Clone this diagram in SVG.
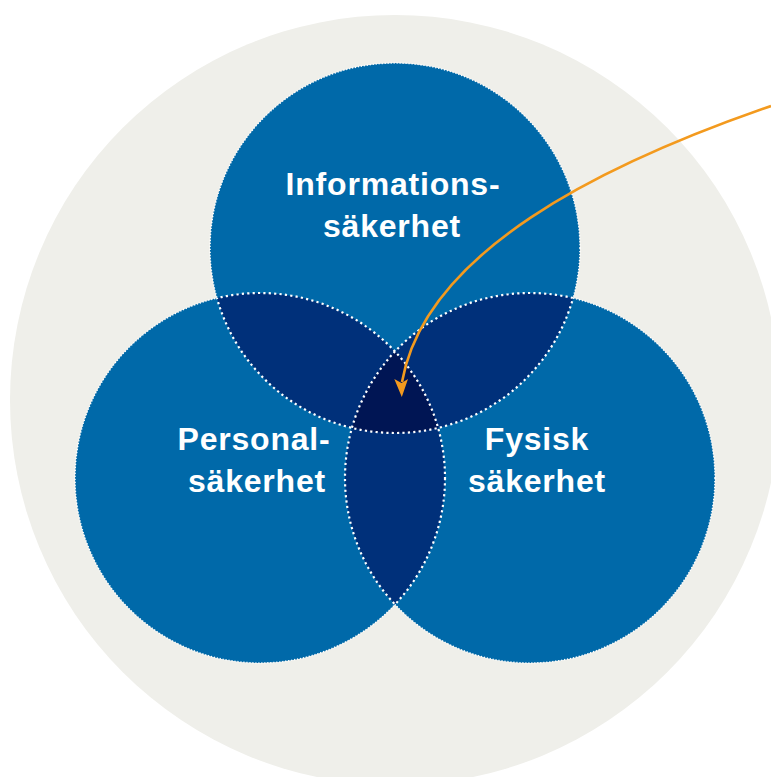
<svg xmlns="http://www.w3.org/2000/svg" width="771" height="777" viewBox="0 0 771 777">
<defs>
<style>
.base{fill:#0069A9}
.dk{fill:#00307A}
.dkk{fill:#001554}
.dot{fill:none;stroke:#fff;stroke-width:2.2;stroke-dasharray:2.2 3.2}
.fine{fill:none;stroke:#fff;stroke-width:1.5;stroke-dasharray:1.2 1.8}
.lbl{font-family:"Liberation Sans",Arial,sans-serif;font-weight:bold;font-size:32px;fill:#fff;text-anchor:middle;letter-spacing:0.8px}
.arrow{fill:none;stroke:#F39A1E;stroke-width:2.6}
</style>
<clipPath id="cT"><circle cx="395" cy="248" r="185"/></clipPath>
<clipPath id="cL"><circle cx="260" cy="478" r="185"/></clipPath>
<clipPath id="cR"><circle cx="530" cy="478" r="185"/></clipPath>
<clipPath id="uLR"><circle cx="260" cy="478" r="185"/><circle cx="530" cy="478" r="185"/></clipPath>
<clipPath id="uTR"><circle cx="395" cy="248" r="185"/><circle cx="530" cy="478" r="185"/></clipPath>
<clipPath id="uTL"><circle cx="395" cy="248" r="185"/><circle cx="260" cy="478" r="185"/></clipPath>
<mask id="mT" maskUnits="userSpaceOnUse" x="0" y="0" width="771" height="777"><rect width="771" height="777" fill="#fff"/><circle cx="260" cy="478" r="185"/><circle cx="530" cy="478" r="185"/></mask>
<mask id="mL" maskUnits="userSpaceOnUse" x="0" y="0" width="771" height="777"><rect width="771" height="777" fill="#fff"/><circle cx="395" cy="248" r="185"/><circle cx="530" cy="478" r="185"/></mask>
<mask id="mR" maskUnits="userSpaceOnUse" x="0" y="0" width="771" height="777"><rect width="771" height="777" fill="#fff"/><circle cx="395" cy="248" r="185"/><circle cx="260" cy="478" r="185"/></mask>
</defs>
<rect width="771" height="777" fill="#fff"/>
<circle id="background" cx="395" cy="400" r="385" fill="#EFEFEA"/>

<g id="node-info">
<circle class="base" cx="395" cy="248" r="185"/>
</g>
<g id="node-personal">
<circle class="base" cx="260" cy="478" r="185"/>
</g>
<g id="node-fysisk">
<circle class="base" cx="530" cy="478" r="185"/>
</g>

<g id="overlaps">
<circle class="dk" cx="260" cy="478" r="185" clip-path="url(#cT)"/>
<circle class="dk" cx="530" cy="478" r="185" clip-path="url(#cT)"/>
<circle class="dk" cx="530" cy="478" r="185" clip-path="url(#cL)"/>
<g clip-path="url(#cL)"><circle class="dkk" cx="530" cy="478" r="185" clip-path="url(#cT)"/></g>
</g>

<g id="outlines">
<circle class="fine" cx="395" cy="248" r="185" mask="url(#mT)"/>
<circle class="fine" cx="260" cy="478" r="185" mask="url(#mL)"/>
<circle class="fine" cx="530" cy="478" r="185" mask="url(#mR)"/>
<circle class="dot" cx="395" cy="248" r="185" clip-path="url(#uLR)"/>
<circle class="dot" cx="260" cy="478" r="185" clip-path="url(#uTR)"/>
<circle class="dot" cx="530" cy="478" r="185" clip-path="url(#uTL)"/>
</g>

<g id="labels">
<text class="lbl" x="393" y="195">Informations-</text>
<text class="lbl" x="392" y="237">säkerhet</text>
<text class="lbl" x="254" y="450">Personal-</text>
<text class="lbl" x="257" y="492">säkerhet</text>
<text class="lbl" x="537" y="450">Fysisk</text>
<text class="lbl" x="537" y="492">säkerhet</text>
</g>

<g id="connectors">
<path class="arrow" d="M771,106 C600,165 425,252 402,382"/>
<path d="M394.3,379 L401.8,397 L408,379 L401.5,383 Z" fill="#F39A1E"/>
</g>
</svg>
